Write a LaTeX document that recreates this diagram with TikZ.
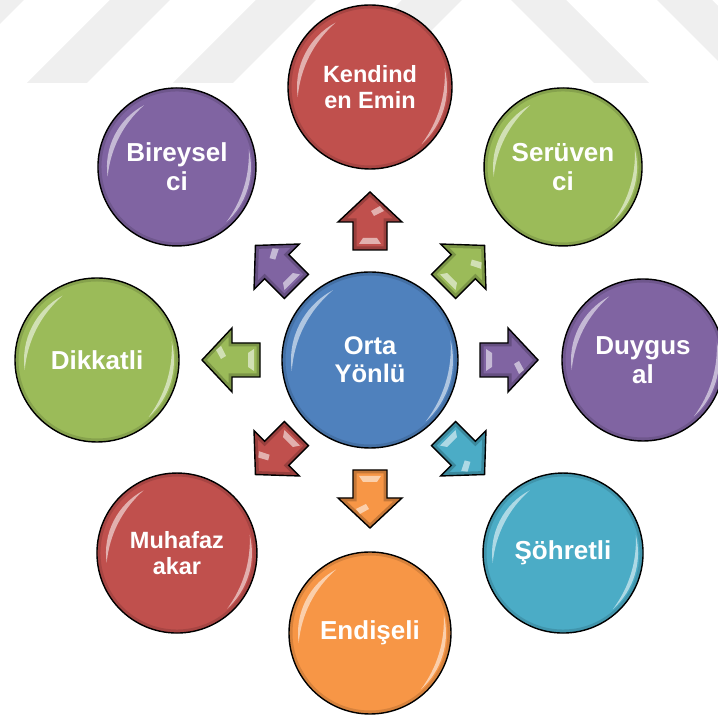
\documentclass[tikz,border=0pt]{standalone}
\usepackage{fontspec}
\setmainfont{Liberation Sans}
\usetikzlibrary{calc}
\definecolor{cblue}{HTML}{4F81BD}
\definecolor{cred}{HTML}{C0504D}
\definecolor{cgreen}{HTML}{9BBB59}
\definecolor{cpurple}{HTML}{8064A2}
\definecolor{ccyan}{HTML}{4BACC6}
\definecolor{corange}{HTML}{F79646}
\definecolor{wmark}{HTML}{EFEFEF}

\tikzset{
  gballsty/.style={circle, draw=black, line width=1.4pt, text=white, inner sep=0pt, align=center},
  t26/.style={font=\bfseries\fontsize{26}{28.5}\selectfont},
  t25/.style={font=\bfseries\fontsize{25.5}{28}\selectfont},
  t23/.style={font=\bfseries\fontsize{23.5}{26}\selectfont},
  glintfill/.style={fill=white, opacity=.55},
  arrowline/.style={draw=black, line width=1.4pt, line join=miter},
}

% crescent-shaped highlight inside a ball
\newcommand\glint[5]{%
  \fill[glintfill] ($(#1.center)+(#3:#2)$) arc[start angle=#3,end angle=#4,radius=#2]
    .. controls ($(#1.center)+({(#4)-((#4)-(#3))/3}:{((#2)-(#5)-0.25*(#2)*cos(((#4)-(#3))/2))/(0.75*cos(((#4)-(#3))/6))})$)
    and ($(#1.center)+({(#3)+((#4)-(#3))/3}:{((#2)-(#5)-0.25*(#2)*cos(((#4)-(#3))/2))/(0.75*cos(((#4)-(#3))/6))})$)
    .. ($(#1.center)+(#3:#2)$) -- cycle;}

% glossy ball: name, position, radius, colour, font style, text
\newcommand\gball[6]{%
  \node[gballsty, fill=#4, minimum size={2*(#3)}, #5] (#1) at (#2) {#6};
  \begin{scope}
    \clip (#1.center) circle[radius=#3];
    \draw[black, opacity=.13, line width=7pt] (#1.center) circle[radius=#3];
  \end{scope}
  \glint{#1}{#3-9}{118}{188}{5}
  \glint{#1}{#3-5}{-48}{14}{4}
}

% block arrow: name, angle, distance from centre, colour
\newcommand\barrow[4]{%
  \begin{scope}[shift={($(c)+(#2:#3)$)}, rotate=#2]
    \coordinate (#1) at (0,0);
    \fill[#4] (-29,-17) -- (-1,-17) -- (-1,-32) -- (29,0) -- (-1,32) -- (-1,17) -- (-29,17) -- cycle;
    \begin{scope}
      \clip (-29,-17) -- (-1,-17) -- (-1,-32) -- (29,0) -- (-1,32) -- (-1,17) -- (-29,17) -- cycle;
      \draw[#4!55!black, opacity=.45, line width=7pt, line join=miter]
        (-29,-17) -- (-1,-17) -- (-1,-32) -- (29,0) -- (-1,32) -- (-1,17) -- (-29,17) -- cycle;
    \end{scope}
    \fill[glintfill] (-23,-11) -- (-23,11) -- (-17,7) -- (-17,-7) -- cycle;
    \fill[glintfill] (5,-4) -- (10,-14) -- (15,-10) -- (10,-1) -- cycle;
    \path[arrowline] (-29,-17) -- (-1,-17) -- (-1,-32) -- (29,0) -- (-1,32) -- (-1,17) -- (-29,17) -- cycle;
  \end{scope}}

\begin{document}
\begin{tikzpicture}[x=1pt,y=1pt]
\useasboundingbox (0,0) rectangle (718,717);

% faint watermark stripes
\begin{scope}
  \clip (0,0) rectangle (718,717);
  \foreach \k in {-1,0,1,2} {
    \fill[wmark] ({27+146*\k},634) -- ({87+146*\k},634) -- ({170+146*\k},717) -- ({110+146*\k},717) -- cycle;
  }
  \fill[wmark] (511,717) -- (566,717) -- (649,634) -- (594,634) -- cycle;
  \fill[wmark] (657,717) -- (712,717) -- (795,634) -- (740,634) -- cycle;
\end{scope}

\coordinate (c) at (370,357);

% arrows
\barrow{a1}{90}{139}{cred}
\barrow{a2}{45}{133}{cgreen}
\barrow{a3}{0}{139}{cpurple}
\barrow{a4}{-45}{133}{ccyan}
\barrow{a5}{-90}{139}{corange}
\barrow{a6}{-135}{133}{cred}
\barrow{a7}{180}{139}{cgreen}
\barrow{a8}{135}{133}{cpurple}

% balls
\gball{orta}{c}{88}{cblue}{t25}{Orta\\Yönlü}
\gball{kendi}{$(c)+(90:273)$}{82}{cred}{t23}{Kendind\\en Emin}
\gball{seruv}{$(c)+(45:273)$}{79}{cgreen}{t26}{Serüven\\ci}
\gball{duyg}{$(c)+(0:273)$}{81}{cpurple}{t26}{Duygus\\al}
\gball{sohr}{$(c)+(-45:273)$}{80}{ccyan}{t26}{Şöhretli}
\gball{endi}{$(c)+(-90:273)$}{81}{corange}{t26}{Endişeli}
\gball{muha}{$(c)+(-135:273)$}{80}{cred}{t23}{Muhafaz\\akar}
\gball{dikk}{$(c)+(180:273)$}{82}{cgreen}{t26}{Dikkatli}
\gball{birey}{$(c)+(135:273)$}{79}{cpurple}{t26}{Bireysel\\ci}
\end{tikzpicture}
\end{document}
